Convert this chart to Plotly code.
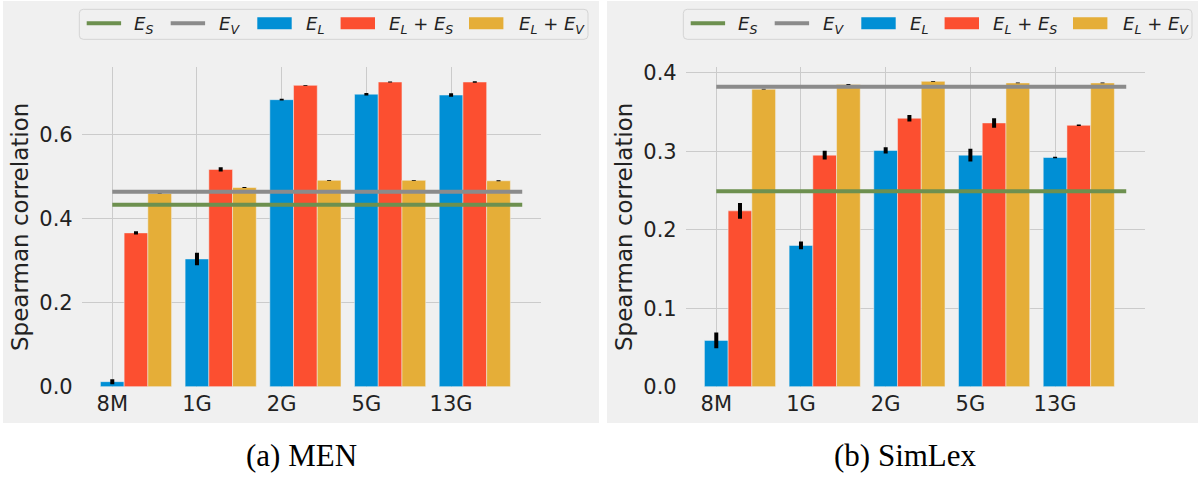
import numpy as np
import plotly.graph_objects as go

# ---------------- data ----------------
CATEGORIES = ["8M", "1G", "2G", "5G", "13G"]

MEN_ES = 0.433
MEN_EV = 0.464
MEN_EL = [0.012, 0.304, 0.683, 0.696, 0.694]
MEN_EL_ERR = [0.006, 0.015, 0.002, 0.003, 0.004]
MEN_EL_ES = [0.366, 0.517, 0.717, 0.725, 0.725]
MEN_EL_ES_ERR = [0.004, 0.005, 0.001, 0.001, 0.002]
MEN_EL_EV = [0.460, 0.474, 0.491, 0.491, 0.490]
MEN_EL_EV_ERR = [0.001, 0.001, 0.001, 0.001, 0.001]

SIM_ES = 0.249
SIM_EV = 0.382
SIM_EL = [0.059, 0.180, 0.301, 0.295, 0.292]
SIM_EL_ERR = [0.010, 0.005, 0.004, 0.008, 0.001]
SIM_EL_ES = [0.224, 0.295, 0.342, 0.336, 0.333]
SIM_EL_ES_ERR = [0.010, 0.0055, 0.004, 0.006, 0.001]
SIM_EL_EV = [0.379, 0.385, 0.389, 0.387, 0.387]
SIM_EL_EV_ERR = [0.0005, 0.0005, 0.0005, 0.0005, 0.0005]

CAPTIONS = ["(a) MEN", "(b) SimLex"]
Y_LABEL = "Spearman correlation"
Y_TICKS_MEN = [0.0, 0.2, 0.4, 0.6]
Y_TICKS_SIM = [0.0, 0.1, 0.2, 0.3, 0.4]

# ---------------- style ----------------
W, H = 1198, 477
BAR_W = 0.28
C_BLUE, C_RED, C_YEL = "#008fd5", "#fc4f30", "#e5ae38"
C_GREEN, C_GRAY = "#6d904f", "#8b8b8b"
BG = "#f0f0f0"
GRID = "#cbcbcb"
TXT = "#222222"
FONT = "DejaVu Sans"


def px(x):
    return x / W


def py(y):
    return 1 - y / H


OFF = [0, 604]
panels = [
    dict(es=MEN_ES, ev=MEN_EV,
         series=[(MEN_EL, MEN_EL_ERR, C_BLUE), (MEN_EL_ES, MEN_EL_ES_ERR, C_RED),
                 (MEN_EL_EV, MEN_EL_EV_ERR, C_YEL)],
         yrange=[0, 0.760], yticks=Y_TICKS_MEN),
    dict(es=SIM_ES, ev=SIM_EV,
         series=[(SIM_EL, SIM_EL_ERR, C_BLUE), (SIM_EL_ES, SIM_EL_ES_ERR, C_RED),
                 (SIM_EL_EV, SIM_EL_EV_ERR, C_YEL)],
         yrange=[0, 0.4069], yticks=Y_TICKS_SIM),
]

fig = go.Figure()
base_x = np.arange(len(CATEGORIES))
line_x = [0, len(CATEGORIES) - 1 + 3 * BAR_W]

shapes = []
annotations = []
layout_axes = {}

for i, p in enumerate(panels):
    o = OFF[i]
    xa = "x" if i == 0 else "x2"
    ya = "y" if i == 0 else "y2"
    for k, (vals, err, col) in enumerate(p["series"]):
        fig.add_trace(go.Bar(
            x=base_x + k * BAR_W, y=vals, width=BAR_W,
            marker=dict(color=col, line=dict(color=BG, width=0.5)),
            error_y=dict(type="data", array=err, color="black", thickness=4, width=0),
            xaxis=xa, yaxis=ya, showlegend=False, hoverinfo="skip"))
    for val, col in [(p["ev"], C_GRAY), (p["es"], C_GREEN)]:
        fig.add_trace(go.Scatter(
            x=line_x, y=[val, val], mode="lines",
            line=dict(color=col, width=4),
            xaxis=xa, yaxis=ya, showlegend=False, hoverinfo="skip"))

    key_x = "xaxis" if i == 0 else "xaxis2"
    key_y = "yaxis" if i == 0 else "yaxis2"
    layout_axes[key_x] = dict(
        domain=[px(81.7 + o), px(540.7 + o)],
        range=[-0.361, 5.058],
        tickmode="array", tickvals=list(base_x), ticktext=CATEGORIES,
        showgrid=True, gridcolor=GRID, gridwidth=1, zeroline=False,
        showline=False, ticks="", ticklabelstandoff=2, automargin=False,
        tickfont=dict(family=FONT, size=21, color=TXT),
        anchor=ya, fixedrange=True)
    layout_axes[key_y] = dict(
        domain=[py(386.7), py(67.3)],
        range=p["yrange"],
        tickmode="array", tickvals=p["yticks"],
        ticktext=[f"{t:.1f}" for t in p["yticks"]],
        showgrid=True, gridcolor=GRID, gridwidth=1, zeroline=False,
        showline=False, ticks="", ticklabelstandoff=8, automargin=False,
        tickfont=dict(family=FONT, size=21, color=TXT),
        anchor=xa, fixedrange=True)

    # panel background
    x_right = 599 + o if i == 0 else W
    shapes.append(dict(type="rect", xref="paper", yref="paper",
                       x0=px(3 + o), x1=px(x_right), y0=py(423), y1=py(1),
                       fillcolor=BG, line=dict(width=0), layer="below"))

    # y label
    annotations.append(dict(text=Y_LABEL, xref="paper", yref="paper",
                            x=px(20 + o), y=py(227), textangle=-90,
                            xanchor="center", yanchor="middle", showarrow=False,
                            font=dict(family=FONT, size=23, color=TXT)))
    # caption
    annotations.append(dict(text=CAPTIONS[i], xref="paper", yref="paper",
                            x=px(301 + o), y=py(455), xanchor="center", yanchor="middle",
                            showarrow=False,
                            font=dict(family="Liberation Serif", size=31, color="black")))

    # legend box (rounded)
    x0, x1, y0, y1, r = 79.3 + o, 588 + o, 9.3, 39.3, 4
    path = (f"M{px(x0 + r)},{py(y0)} L{px(x1 - r)},{py(y0)} Q{px(x1)},{py(y0)} {px(x1)},{py(y0 + r)} "
            f"L{px(x1)},{py(y1 - r)} Q{px(x1)},{py(y1)} {px(x1 - r)},{py(y1)} "
            f"L{px(x0 + r)},{py(y1)} Q{px(x0)},{py(y1)} {px(x0)},{py(y1 - r)} "
            f"L{px(x0)},{py(y0 + r)} Q{px(x0)},{py(y0)} {px(x0 + r)},{py(y0)} Z")
    shapes.append(dict(type="path", xref="paper", yref="paper", path=path,
                       fillcolor=BG, line=dict(color="#d4d4d4", width=1), layer="above"))

    legend_items = [
        ("line", C_GREEN, 86.7, 134, "<i>E</i><sub><i>S</i></sub>"),
        ("line", C_GRAY, 170.7, 219, "<i>E</i><sub><i>V</i></sub>"),
        ("rect", C_BLUE, 257.3, 306, "<i>E</i><sub><i>L</i></sub>"),
        ("rect", C_RED, 340.6, 389, "<i>E</i><sub><i>L</i></sub> + <i>E</i><sub><i>S</i></sub>"),
        ("rect", C_YEL, 469.0, 518.6, "<i>E</i><sub><i>L</i></sub> + <i>E</i><sub><i>V</i></sub>"),
    ]
    for kind, col, kx, tx, label in legend_items:
        if kind == "line":
            shapes.append(dict(type="line", xref="paper", yref="paper",
                               x0=px(kx + o), x1=px(kx + 34.4 + o), y0=py(23.3), y1=py(23.3),
                               line=dict(color=col, width=4), layer="above"))
        else:
            shapes.append(dict(type="rect", xref="paper", yref="paper",
                               x0=px(kx + o), x1=px(kx + 34.4 + o), y0=py(29.3), y1=py(17.3),
                               fillcolor=col, line=dict(width=0), layer="above"))
        annotations.append(dict(text=label, xref="paper", yref="paper",
                                x=px(tx + o - 1), y=py(25.5), xanchor="left", yanchor="middle",
                                showarrow=False, borderpad=0,
                                font=dict(family=FONT, size=18, color=TXT)))

fig.update_layout(
    width=W, height=H, autosize=False,
    margin=dict(l=0, r=0, t=0, b=0, pad=0),
    paper_bgcolor="white", plot_bgcolor=BG,
    barmode="overlay",
    showlegend=False,
    shapes=shapes, annotations=annotations,
    **layout_axes,
)

POST = ("document.body.style.margin='0px';document.body.style.padding='0px';"
        "document.documentElement.style.overflow='hidden';"
        "Plotly.relayout('{plot_id}', {width: %d, height: %d});" % (W, H))

fig.write_html("out.html", post_script=POST, config={"displayModeBar": False})
